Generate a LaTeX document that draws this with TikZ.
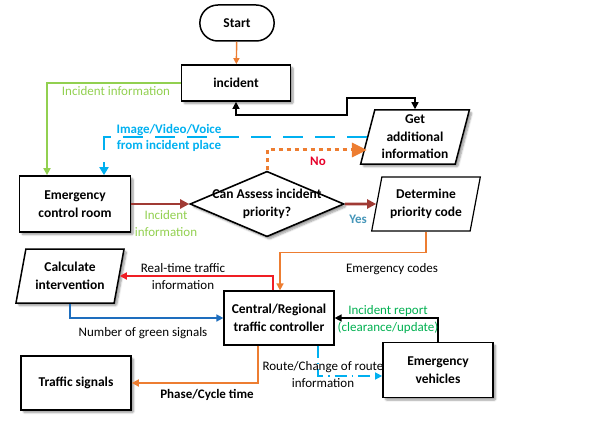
\documentclass[tikz,border=0pt]{standalone}
\usepackage{fontspec}
\setmainfont{Carlito}
\usetikzlibrary{shapes.geometric,shapes.misc,arrows.meta,shadows.blur}
\definecolor{flowOrange}{RGB}{237,125,49}
\definecolor{flowGreen}{RGB}{146,208,80}
\definecolor{flowCyan}{RGB}{0,176,240}
\definecolor{flowBrown}{RGB}{160,58,52}
\definecolor{flowRed}{RGB}{240,30,36}
\definecolor{flowBlue}{RGB}{30,110,190}
\definecolor{flowTeal}{RGB}{70,150,185}
\definecolor{flowDarkGreen}{RGB}{0,176,80}
\definecolor{flowNo}{RGB}{230,0,40}
\tikzset{
  shadowed/.style={blur shadow={shadow xshift=2.5pt,shadow yshift=-2.5pt,shadow blur steps=6,shadow blur extra rounding=1pt}},
  boxfont/.style={font=\fontsize{13.5}{17.5}\selectfont\bfseries},
  lblfont/.style={font=\fontsize{13}{17}\selectfont},
  process/.style={draw,line width=1.7pt,fill=white,align=center,boxfont,minimum width=110pt,minimum height=54pt,shadowed},
  iobox/.style={trapezium,trapezium left angle=77,trapezium right angle=103,trapezium stretches=true,
    draw,line width=1.5pt,fill=white,align=center,boxfont,minimum width=109pt,minimum height=54pt,inner xsep=0pt},
  decision/.style={diamond,aspect=2.35,inner sep=-3.5pt,draw,line width=1.6pt,fill=white,align=center,boxfont,shadowed},
  conn/.style={line width=1.5pt,-{Triangle[length=7pt,width=7pt]}},
}
\begin{document}
\begin{tikzpicture}[x=1pt,y=-1pt]
\useasboundingbox (0,0) rectangle (594,433);
% boxes
\node[rounded rectangle,draw,line width=1.5pt,boxfont,minimum width=81pt,minimum height=36pt] (start) at (237,23) {Start};
\node[process,minimum width=109pt,minimum height=36pt] (incident) at (236,83) {incident};
\node[iobox,shadowed] (get) at (415,137) {Get\\additional\\information};
\node[process,minimum width=111pt,minimum height=56pt] (emerg) at (75,204) {Emergency\\control room};
\node[decision] (assess) at (267,204) {Can Assess incident\\priority?};
\node[iobox,line width=1.2pt] (determine) at (426,204) {Determine\\priority code};
\node[iobox,shadowed] (calc) at (70,276) {Calculate\\intervention};
\node[draw,line width=1.2pt,fill=white,align=center,boxfont,minimum width=110pt,minimum height=54pt] (central) at (279,318) {Central/Regional\\traffic controller};
\node[process,minimum height=55pt] (vehicles) at (438,370) {Emergency\\vehicles};
\node[process] (signals) at (76,383) {Traffic signals};
% connectors
\draw[conn,flowOrange,line width=1.4pt,-{Triangle[length=6pt,width=6pt]}] (start) -- (incident);
\draw[conn,flowGreen,line width=2pt] (incident.west) -| ([xshift=-28pt]emerg.north);
\draw[line width=1.4pt,{Triangle[length=7pt,width=7pt]}-{Triangle[length=7pt,width=7pt]}] (incident.south) |- (347,115) -- (347,98) -| (get.north);
\draw[conn,flowCyan,line width=2.6pt,dash pattern=on 20pt off 12pt,-{Triangle[length=8pt,width=9pt]}] (get.west) -| ([xshift=29pt]emerg.north);
\draw[conn,flowOrange,line width=3pt,dash pattern=on 4pt off 4pt,-{Triangle[length=15pt,width=14pt]}] (assess.north) |- ([yshift=-13pt]get.west);
\draw[conn,flowBrown,line width=2.6pt,-{Triangle[length=9pt,width=9pt]}] (emerg.east) -- (assess.west);
\draw[conn,flowBrown,line width=2.6pt,-{Triangle[length=9pt,width=9pt]}] (assess.east) -- (determine.west);
\draw[conn,flowOrange] (determine.south) -- ++(0,21) -| ([xshift=1pt]central.north);
\draw[conn,flowRed,line width=1.8pt] ([xshift=-6pt]central.north) |- (calc.east);
\draw[conn,flowBlue] (calc.south) |- (central.west);
\draw[conn,black] (vehicles.north) |- (central.east);
\draw[conn,flowCyan,line width=1.3pt,dash pattern=on 12pt off 5pt on 1.5pt off 5pt] ([xshift=39pt]central.south) |- ([yshift=-6pt]vehicles.west);
\draw[conn,flowOrange,line width=1.8pt] ([xshift=-21pt]central.south) |- (signals.east);
% labels
\node[lblfont,text=flowGreen] (lblincinfo) at (116,91) {Incident information};
\node[lblfont,text=flowCyan,align=center,font=\fontsize{13}{16}\selectfont\bfseries] (lblimage) at (169,138) {Image/Video/Voice\\from incident place};
\node[lblfont,text=flowNo,font=\fontsize{13}{17}\selectfont\bfseries] (lblno) at (318,161) {No};
\node[lblfont,text=flowGreen,align=center] (lblinc) at (166,224) {Incident\\information};
\node[lblfont,text=flowTeal,font=\fontsize{13}{17}\selectfont\bfseries] (lblyes) at (358,219) {Yes};
\node[lblfont] (lblcodes) at (392,269) {Emergency codes};
\node[lblfont,align=center] (lblrealtime) at (183,277) {Real-time traffic\\information};
\node[lblfont] (lblgreen) at (143,333) {Number of green signals};
\node[lblfont,text=flowDarkGreen,align=center] (lblreport) at (388,320) {Incident report\\(clearance/update)};
\node[lblfont,align=center] (lblroute) at (323,375) {Route/Change of route\\information};
\node[lblfont,font=\fontsize{13}{17}\selectfont\bfseries] (lblphase) at (207,395) {Phase/Cycle time};
\end{tikzpicture}
\end{document}
